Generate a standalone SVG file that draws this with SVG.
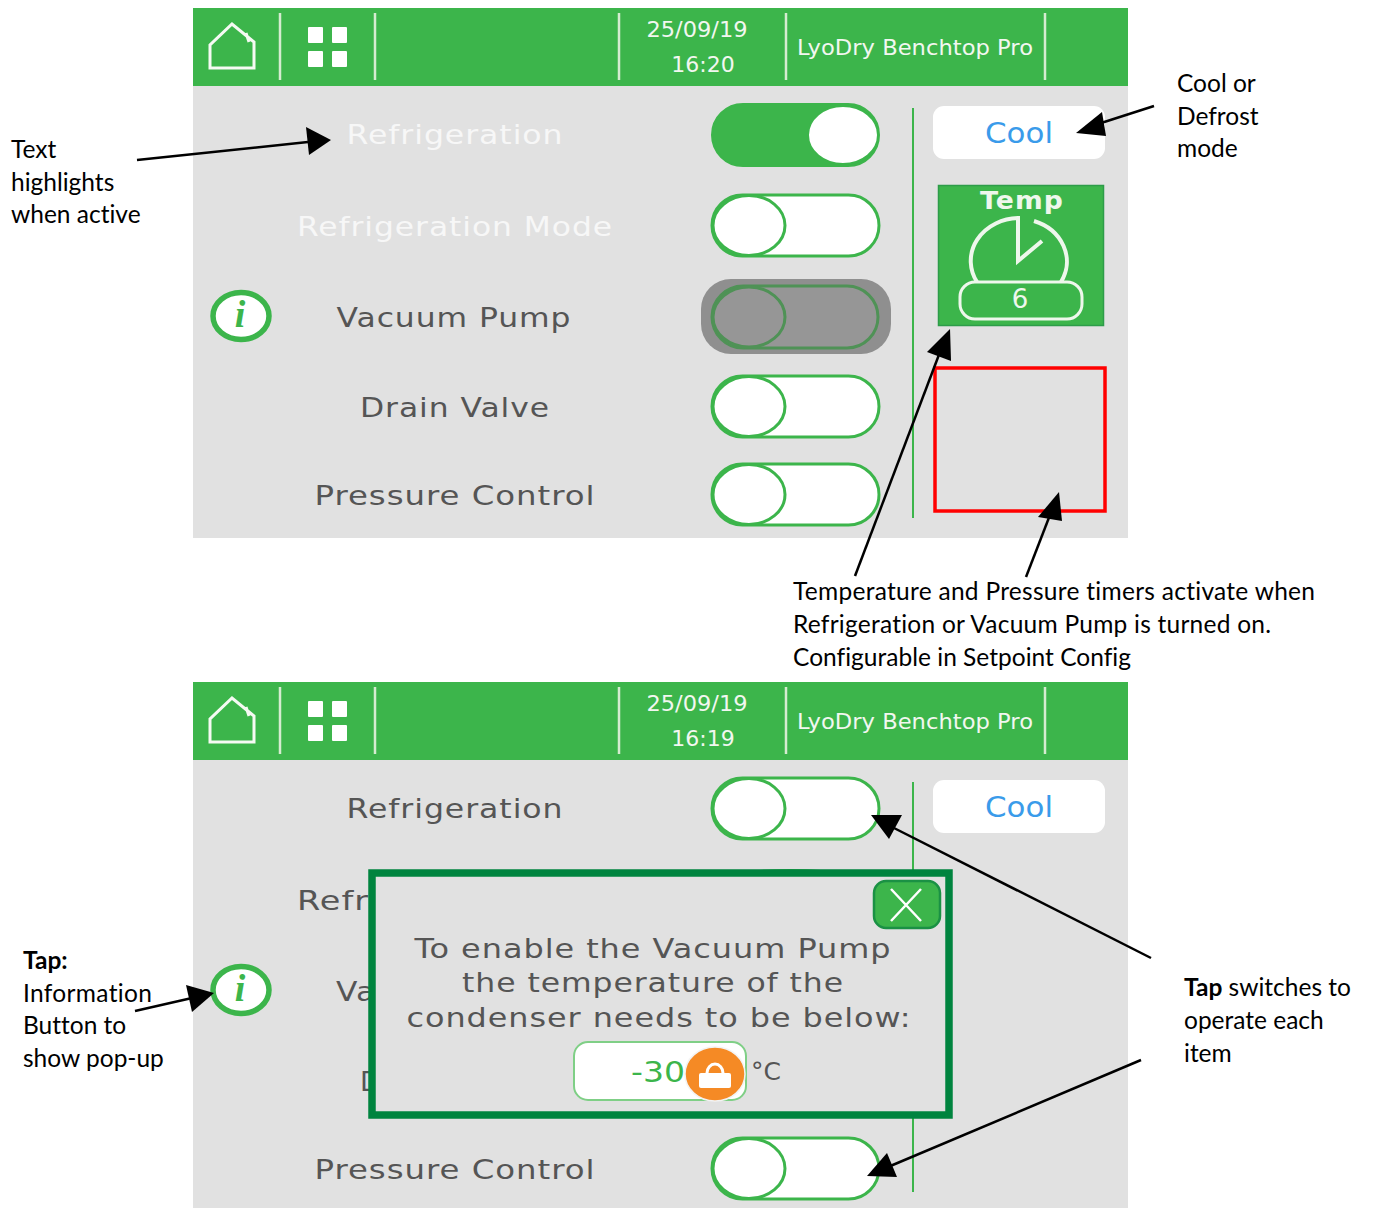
<svg xmlns="http://www.w3.org/2000/svg" xmlns:xlink="http://www.w3.org/1999/xlink" width="1373" height="1208" viewBox="0 0 1373 1208">
<style>
.ui{font-family:"DejaVu Sans",sans-serif}
.lab{font-family:"DejaVu Sans",sans-serif;font-size:27px;fill:#555;text-anchor:middle;letter-spacing:.8px}
.hi{fill:#f7f7f7}
.hdr{font-family:"DejaVu Sans",sans-serif;font-size:22px;fill:#f2f7f0;text-anchor:middle}
.note{font-family:Lato,"Open Sans",sans-serif;font-size:24.5px;fill:#000;font-variant-ligatures:none}
.sep{stroke:#d5ecd0;stroke-width:2.5;fill:none}
.tr{fill:#fff;stroke:#3cb54b;stroke-width:3}
.conn{stroke:#000;stroke-width:2.5;fill:none}
.head{fill:#000;stroke:none}
.gl{stroke:#3cb54b;stroke-width:2;fill:none}
</style>
<defs>
<g id="tog"><rect x="0" y="0" width="167" height="61" rx="30.500" class="tr"/><ellipse cx="37" cy="30.500" rx="36" ry="30" class="tr"/></g>
<g id="info"><ellipse cx="241" cy="0" rx="28" ry="23.500" fill="#fff" stroke="#3cb54b" stroke-width="5.500"/><text x="240" y="11" font-family="'Liberation Serif',serif" font-style="italic" font-weight="bold" font-size="38" fill="#3cb54b" text-anchor="middle">i</text></g>
<g id="bar">
<rect x="193" y="0" width="935" height="78" fill="#3cb54b"/>
<path d="M210 60V37L232 16L254 34V60H210Z M246 25L249 34" fill="none" stroke="#f5faf3" stroke-width="3"/>
<rect x="308" y="19" width="15" height="16" rx="1" fill="#fff"/><rect x="332" y="19" width="15" height="16" rx="1" fill="#fff"/><rect x="308" y="43" width="15" height="16" rx="1" fill="#fff"/><rect x="332" y="43" width="15" height="16" rx="1" fill="#fff"/>
<path class="sep" d="M280 5V72M375 5V72M619 5V72M786 5V72M1045 5V72"/>
<text class="hdr" x="915" y="47" font-size="21" textLength="236" lengthAdjust="spacingAndGlyphs">LyoDry Benchtop Pro</text>
</g>
<g id="cool"><rect x="933" y="0" width="172" height="53" rx="11" fill="#fff"/><text x="1019" y="37" font-family="'DejaVu Sans',sans-serif" font-size="29" fill="#3a9bea" text-anchor="middle" textLength="68" lengthAdjust="spacingAndGlyphs">Cool</text></g>
</defs>

<g id="screen-top">
<rect x="193" y="8" width="935" height="530" fill="#e1e1e1"/>
<use xlink:href="#bar" href="#bar" y="8"/>
<text class="hdr" x="697" y="37" textLength="101" lengthAdjust="spacingAndGlyphs">25/09/19</text>
<text class="hdr" x="703" y="72">16:20</text>
<line class="gl" x1="913" y1="108" x2="913" y2="518"/>
</g>
<g id="label-refrigeration"><text class="lab hi" x="455" y="144" textLength="217" lengthAdjust="spacingAndGlyphs">Refrigeration</text></g>
<g id="label-mode"><text class="lab hi" x="455" y="236" textLength="316" lengthAdjust="spacingAndGlyphs">Refrigeration Mode</text></g>
<g id="label-vacuum"><text class="lab" x="454" y="327" textLength="235" lengthAdjust="spacingAndGlyphs">Vacuum Pump</text></g>
<g id="label-drain"><text class="lab" x="455" y="417" textLength="190" lengthAdjust="spacingAndGlyphs">Drain Valve</text></g>
<g id="label-pressure"><text class="lab" x="455" y="505" textLength="281" lengthAdjust="spacingAndGlyphs">Pressure Control</text></g>
<g id="info-top"><use xlink:href="#info" href="#info" y="316"/></g>
<g id="toggle-refrigeration"><rect x="712" y="104" width="167" height="62" rx="31" fill="#3cb54b" stroke="#3cb54b" stroke-width="2"/><ellipse cx="843" cy="135" rx="35" ry="29" fill="#fff" stroke="#3cb54b" stroke-width="2"/></g>
<g id="toggle-mode"><use xlink:href="#tog" href="#tog" x="712" y="195"/></g>
<g id="toggle-vacuum"><rect x="701" y="279" width="190" height="75" rx="30" fill="#8f8f8f"/><rect x="712" y="286" width="166" height="62" rx="31" fill="#969696" stroke="#4f9256" stroke-width="3"/><ellipse cx="749" cy="317" rx="36" ry="30" fill="#969696" stroke="#4f9256" stroke-width="3"/></g>
<g id="toggle-drain"><use xlink:href="#tog" href="#tog" x="712" y="376"/></g>
<g id="toggle-pressure"><use xlink:href="#tog" href="#tog" x="712" y="464"/></g>
<g id="cool-top"><use xlink:href="#cool" href="#cool" y="106"/></g>
<g id="temp-timer">
<rect x="938.500" y="185.500" width="165" height="140" fill="#3cb54b" stroke="#2d9c49" stroke-width="1.500"/>
<text x="1022" y="209" class="ui" font-size="24" font-weight="bold" letter-spacing="1" fill="#eef7ec" text-anchor="middle" textLength="84" lengthAdjust="spacingAndGlyphs">Temp</text>
<path d="M977 282A49 43 0 0 1 1018 218L1018 261L1042 241M1034 221A49 43 0 0 1 1061 282" fill="none" stroke="#eef7ec" stroke-width="4"/>
<rect x="960" y="282" width="122" height="37" rx="15" fill="#3cb54b" stroke="#eef7ec" stroke-width="3"/>
<text x="1020" y="308" class="ui" font-size="26" fill="#eef7ec" text-anchor="middle">6</text>
</g>
<g id="pressure-timer"><rect x="935" y="368" width="170" height="143" fill="none" stroke="#f00" stroke-width="3.500"/></g>

<g id="screen-bottom">
<rect x="193" y="682" width="935" height="526" fill="#e1e1e1"/>
<use xlink:href="#bar" href="#bar" y="682"/>
<text class="hdr" x="697" y="711" textLength="101" lengthAdjust="spacingAndGlyphs">25/09/19</text>
<text class="hdr" x="703" y="746">16:19</text>
<line class="gl" x1="913" y1="782" x2="913" y2="1192"/>
</g>
<g id="label-refrigeration-2"><text class="lab" x="455" y="818" textLength="217" lengthAdjust="spacingAndGlyphs">Refrigeration</text></g>
<g id="label-mode-2"><text class="lab" x="297" y="910" style="text-anchor:start" textLength="72" lengthAdjust="spacingAndGlyphs">Refr</text></g>
<g id="label-vacuum-2"><text class="lab" x="336" y="1001" style="text-anchor:start" textLength="40" lengthAdjust="spacingAndGlyphs">Va</text></g>
<g id="label-drain-2"><text class="lab" x="360" y="1091" style="text-anchor:start">D</text></g>
<g id="label-pressure-2"><text class="lab" x="455" y="1179" textLength="281" lengthAdjust="spacingAndGlyphs">Pressure Control</text></g>
<g id="info-bottom"><use xlink:href="#info" href="#info" y="990"/></g>
<g id="toggle-refrigeration-2"><use xlink:href="#tog" href="#tog" x="712" y="778"/></g>
<g id="toggle-pressure-2"><use xlink:href="#tog" href="#tog" x="712" y="1138"/></g>
<g id="cool-bottom"><use xlink:href="#cool" href="#cool" y="780"/></g>
<g id="popup">
<path d="M720 874Q790 864 860 874Z" fill="#3cb54b"/>
<rect x="372" y="873" width="577" height="242" fill="#e1e1e1" stroke="#00843f" stroke-width="7.500"/>
<rect x="874" y="881" width="66" height="47" rx="12" fill="#3cb54b" stroke="#1a9144" stroke-width="2.500"/>
<path d="M891 889L921 921M921 889L891 921" stroke="#fff" stroke-width="2.500" fill="none"/>
<text class="lab" x="653" y="958" textLength="477" lengthAdjust="spacingAndGlyphs">To enable the Vacuum Pump</text>
<text class="lab" x="653" y="992" textLength="382" lengthAdjust="spacingAndGlyphs">the temperature of the</text>
<text class="lab" x="659" y="1027" textLength="505" lengthAdjust="spacingAndGlyphs">condenser needs to be below:</text>
<rect x="574" y="1042" width="172" height="58" rx="14" fill="#fff" stroke="#7fcf86" stroke-width="2"/>
<text x="658" y="1082" class="ui" font-size="28" fill="#3cb54b" text-anchor="middle" textLength="54" lengthAdjust="spacingAndGlyphs">-30</text>
<ellipse cx="715" cy="1074" rx="30" ry="27" fill="#f58a25" stroke="#f3f3f3" stroke-width="1.500"/>
<rect x="699" y="1073" width="32" height="15" rx="2" fill="#fff"/>
<path d="M707 1073A8 9 0 0 1 723 1073" fill="none" stroke="#fff" stroke-width="3"/>
<text x="766" y="1080" class="ui" font-size="25" fill="#555" text-anchor="middle">°C</text>
</g>

<g id="connectors">
<line class="conn" x1="137" y1="160" x2="308" y2="142"/><polygon class="head" points="331,140 306,127 309,155"/>
<line class="conn" x1="1154" y1="106" x2="1098" y2="124"/><polygon class="head" points="1076,133 1102,112 1106,136"/>
<line class="conn" x1="855" y1="576" x2="940" y2="352"/><polygon class="head" points="950,329 927,352 951,361"/>
<line class="conn" x1="1026" y1="577" x2="1050" y2="515"/><polygon class="head" points="1059,492 1038,517 1062,521"/>
<line class="conn" x1="1151" y1="958" x2="890" y2="826"/><polygon class="head" points="871,815 889,839 902,815"/>
<line class="conn" x1="1141" y1="1060" x2="888" y2="1167"/><polygon class="head" points="867,1176 897,1177 887,1153"/>
<line class="conn" x1="135" y1="1011" x2="192" y2="998"/><polygon class="head" points="214,993 186,985 192,1012"/>
</g>

<g id="note-highlight"><text class="note" x="11" y="158">Text</text><text class="note" x="11" y="191">highlights</text><text class="note" x="11" y="223">when active</text></g>
<g id="note-cool"><text class="note" x="1177" y="92">Cool or</text><text class="note" x="1177" y="125">Defrost</text><text class="note" x="1177" y="157">mode</text></g>
<g id="note-timers"><text class="note" x="793" y="600" textLength="522">Temperature and Pressure timers activate when</text><text class="note" x="793" y="633" textLength="478">Refrigeration or Vacuum Pump is turned on.</text><text class="note" x="793" y="666" textLength="338">Configurable in Setpoint Config</text></g>
<g id="note-info"><text class="note" x="23" y="969" font-weight="bold">Tap:</text><text class="note" x="23" y="1002" textLength="129">Information</text><text class="note" x="23" y="1034">Button to</text><text class="note" x="23" y="1067">show pop-up</text></g>
<g id="note-tap"><text class="note" x="1184" y="996"><tspan font-weight="bold">Tap</tspan> switches to</text><text class="note" x="1184" y="1029">operate each</text><text class="note" x="1184" y="1062">item</text></g>
</svg>
